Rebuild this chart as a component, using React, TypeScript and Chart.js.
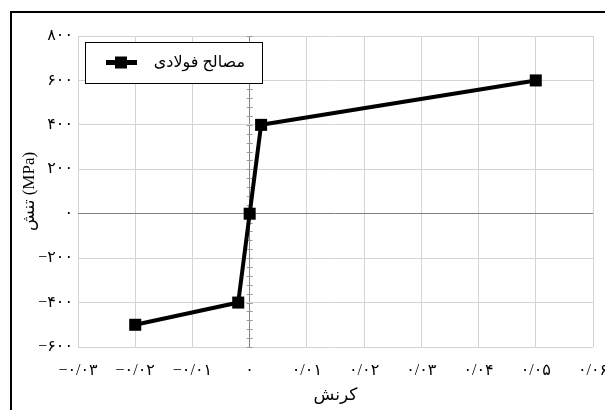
import React, { useEffect, useRef } from "react";
import { Chart, registerables } from "chart.js";

Chart.register(...registerables);

const strainValues = [-0.02, -0.002, 0, 0.002, 0.05];
const stressValues = [-500, -400, 0, 400, 600];
const seriesLabel = "مصالح فولادی";
const xTitle = "کرنش";
const yTitle = "تنش (MPa)";
const xMin = -0.03, xMax = 0.06, xStep = 0.01;
const yMin = -600, yMax = 800, yStep = 200;

const FONT = '"Liberation Serif", "DejaVu Sans", serif';

const faDigits = (s: string) => s.replace(/[0-9]/g, (d) => "۰۱۲۳۴۵۶۷۸۹"[+d]);

const fmtX = (v: number) => {
  const r = Math.round(v * 100) / 100;
  if (r === 0) return "۰";
  return (r < 0 ? "−" : "") + faDigits(Math.abs(r).toFixed(2).replace(".", "/"));
};
const fmtY = (v: number) => {
  const r = Math.round(v);
  if (r === 0) return "۰";
  return (r < 0 ? "−" : "") + faDigits(String(Math.abs(r)));
};

const framePlugin = {
  id: "frame",
  beforeDraw(chart: any) {
    const ctx = chart.ctx;
    ctx.save();
    ctx.fillStyle = "#fff";
    ctx.fillRect(0, 0, chart.width, chart.height);
    ctx.strokeStyle = "#000";
    ctx.lineWidth = 2;
    ctx.beginPath();
    ctx.moveTo(11, chart.height);
    ctx.lineTo(11, 12);
    ctx.lineTo(chart.width, 12);
    ctx.stroke();
    ctx.restore();
  },
  beforeDatasetsDraw(chart: any) {
    const ctx = chart.ctx;
    const xs = chart.scales.x;
    const ys = chart.scales.y;
    const x0 = xs.getPixelForValue(0);
    ctx.save();
    ctx.strokeStyle = "#9a9a9a";
    ctx.lineWidth = 1;
    ctx.beginPath();
    for (let v = yMin; v <= yMax; v += yStep / 5) {
      const y = Math.round(ys.getPixelForValue(v)) + 0.5;
      ctx.moveTo(x0 - 3, y);
      ctx.lineTo(x0 + 3, y);
    }
    ctx.stroke();
    ctx.restore();
  },
  afterDraw(chart: any) {
    const ctx = chart.ctx;
    const a = chart.chartArea;
    const left = a.left + 7, top = a.top + 6, w = 177, h = 41;
    ctx.save();
    ctx.fillStyle = "#fff";
    ctx.fillRect(left, top, w, h);
    ctx.strokeStyle = "#000";
    ctx.lineWidth = 1;
    ctx.strokeRect(left + 0.5, top + 0.5, w, h);
    const cy = top + h / 2;
    ctx.lineWidth = 5;
    ctx.beginPath();
    ctx.moveTo(left + 21, cy);
    ctx.lineTo(left + 52, cy);
    ctx.stroke();
    ctx.fillStyle = "#000";
    ctx.fillRect(left + 30, cy - 6, 12, 12);
    ctx.font = "16px " + FONT;
    ctx.textAlign = "right";
    ctx.textBaseline = "middle";
    ctx.direction = "rtl";
    ctx.fillText(seriesLabel, left + 160, cy);
    ctx.restore();
  },
};

export default function App() {
  const ref = useRef<HTMLCanvasElement>(null);
  useEffect(() => {
    const data = strainValues.map((x, i) => ({ x, y: stressValues[i] }));
    const gridColor = (c: any) => (c.tick && c.tick.value === 0 ? "#808080" : "#d4d4d4");
    const chart = new Chart(ref.current!, {
      type: "scatter",
      data: {
        datasets: [
          {
            label: seriesLabel,
            data,
            showLine: true,
            borderColor: "#000",
            backgroundColor: "#000",
            borderWidth: 4,
            pointStyle: "rect",
            pointRadius: 8.5,
            pointBorderWidth: 0,
          },
        ],
      },
      options: {
        responsive: false,
        animation: false,
        devicePixelRatio: 1,
        layout: { padding: { left: 0, top: 36, right: 12, bottom: 0 } },
        plugins: { legend: { display: false }, tooltip: { enabled: false } },
        scales: {
          x: {
            type: "linear",
            min: xMin,
            max: xMax,
            ticks: {
              stepSize: xStep,
              callback: (v: any) => fmtX(Number(v)),
              color: "#000",
              font: { family: FONT, size: 16 },
              padding: 14,
              maxRotation: 0,
              autoSkip: false,
            },
            grid: { color: gridColor, drawTicks: false, lineWidth: 1 },
            border: { display: false },
            title: {
              display: true,
              text: xTitle,
              color: "#000",
              font: { family: FONT, size: 17 },
              padding: { top: 4, bottom: 4 },
            },
            afterFit: (s: any) => {
              s.height = 63;
              s.paddingLeft = 0;
              s.paddingRight = 0;
            },
          },
          y: {
            type: "linear",
            min: yMin,
            max: yMax,
            ticks: {
              stepSize: yStep,
              callback: (v: any) => fmtY(Number(v)),
              color: "#000",
              font: { family: FONT, size: 16 },
              padding: 5,
            },
            grid: { color: gridColor, drawTicks: false, lineWidth: 1 },
            border: { display: false },
            title: {
              display: true,
              text: yTitle,
              color: "#000",
              font: { family: FONT, size: 17 },
              padding: { top: 19, bottom: 0 },
            },
            afterFit: (s: any) => {
              s.width = 78;
              s.paddingTop = 0;
              s.paddingBottom = 0;
            },
          },
        },
      },
      plugins: [framePlugin],
    } as any);
    return () => chart.destroy();
  }, []);
  return (
    <div style={{ position: "absolute", left: 0, top: 0, width: 605, height: 410 }}>
      <canvas ref={ref} width={605} height={410} style={{ display: "block" }} />
    </div>
  );
}
